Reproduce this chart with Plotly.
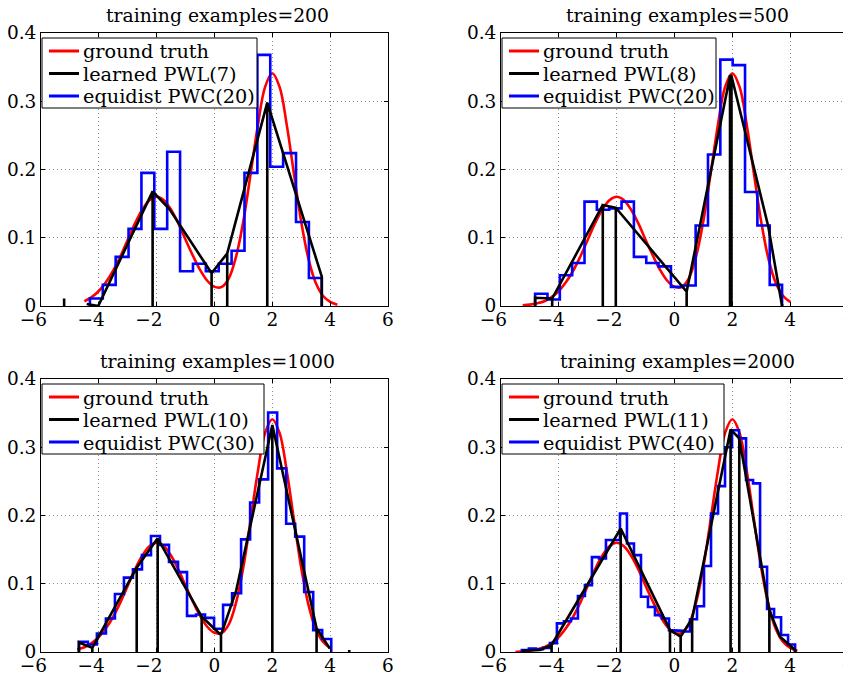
import numpy as np
import plotly.graph_objects as go

# ---------------- data ----------------
titles = ["training examples=200", "training examples=500",
          "training examples=1000", "training examples=2000"]
gt_name = "ground truth"
pwl_names = ["learned PWL(7)", "learned PWL(8)", "learned PWL(10)", "learned PWL(11)"]
pwc_names = ["equidist PWC(20)", "equidist PWC(20)", "equidist PWC(30)", "equidist PWC(40)"]

gt_x = [-5.5, -5.25, -5.0, -4.75, -4.5, -4.25, -4.0, -3.75, -3.5, -3.25, -3.0,
        -2.75, -2.5, -2.25, -2.0, -1.75, -1.5, -1.25, -1.0, -0.75, -0.5, -0.25,
        0.0, 0.25, 0.5, 0.75, 1.0, 1.25, 1.5, 1.75, 2.0, 2.25, 2.5, 2.75, 3.0,
        3.25, 3.5, 3.75, 4.0, 4.25, 4.5]
gt_y = [0.000, 0.001, 0.002, 0.004, 0.007, 0.013, 0.022, 0.035, 0.052, 0.073, 0.097,
        0.121, 0.141, 0.155, 0.160, 0.155, 0.141, 0.121, 0.097, 0.074, 0.053, 0.037,
        0.028, 0.028, 0.041, 0.073, 0.125, 0.194, 0.265, 0.321, 0.341, 0.321, 0.265,
        0.193, 0.123, 0.069, 0.034, 0.015, 0.006, 0.002, 0.001]
gt_range = [(-4.5, 4.25), (-5.25, 4.0), (-4.75, 4.0), (-5.5, 4.25)]

# learned piecewise-linear estimates: knots, values, vertical-to-zero flag
pwl_x_1 = [-4.42, -4.02, -2.14, -1.56, -0.10, 0.44, 1.825, 3.71]
pwl_y_1 = [0.003, 0.000, 0.168, 0.142, 0.048, 0.077, 0.298, 0.043]
pwl_v_1 = [0, 0, 1, 0, 1, 1, 1, 1]
mark_x_1 = [-5.2]
mark_y_1 = [0.011]

pwl_x_2 = [-4.82, -4.23, -2.48, -2.03, 0.42, 1.92, 1.97, 3.24, 3.72]
pwl_y_2 = [0.012, 0.011, 0.148, 0.144, 0.021, 0.337, 0.337, 0.117, 0.003]
pwl_v_2 = [1, 1, 1, 1, 1, 1, 1, 0, 1]
mark_x_2 = []
mark_y_2 = []

pwl_x_3 = [-4.686, -4.226, -2.69, -1.965, -0.443, 0.224, 0.75, 2.0, 3.53, 3.99]
pwl_y_3 = [0.014, 0.006, 0.1235, 0.1665, 0.052, 0.025, 0.09, 0.3326, 0.0347, 0.005]
pwl_v_3 = [1, 1, 1, 1, 1, 1, 0, 1, 1, 0]
mark_x_3 = [4.66]
mark_y_3 = [0.003]

pwl_x_4 = [-5.23, -4.65, -4.25, -1.86, -0.156, 0.213, 0.61, 1.94, 2.24, 3.28, 3.65, 4.17]
pwl_y_4 = [0.002, 0.003, 0.0103, 0.181, 0.032, 0.0225, 0.049, 0.326, 0.313, 0.0615, 0.0225, 0.003]
pwl_v_4 = [1, 0, 1, 1, 1, 1, 1, 1, 1, 1, 0, 1]
mark_x_4 = []
mark_y_4 = []

# equidistant piecewise-constant estimates: range and bin heights
pwc_lo = [-5.2, -4.82, -4.69, -5.52]
pwc_hi = [3.71, 3.72, 4.66, 4.17]
pwc_h_1 = [0, 0, 0.011, 0.031, 0.072, 0.113, 0.195, 0.113, 0.226, 0.051,
           0.062, 0.051, 0.062, 0.081, 0.195, 0.368, 0.204, 0.224, 0.123, 0.041]
pwc_h_2 = [0.018, 0.0095, 0.045, 0.063, 0.153, 0.141, 0.143, 0.153, 0.072, 0.063,
           0.058, 0.028, 0.030, 0.118, 0.222, 0.361, 0.353, 0.167, 0.118, 0.031]
pwc_h_3 = [0.015, 0.011, 0.027, 0.049, 0.085, 0.109, 0.121, 0.142, 0.170, 0.157,
           0.132, 0.117, 0.053, 0.055, 0.050, 0.034, 0.069, 0.086, 0.165, 0.219,
           0.253, 0.351, 0.269, 0.188, 0.169, 0.088, 0.032, 0.019, 0, 0]
pwc_h_4 = [0, 0.003, 0.005, 0.004, 0.006, 0.013, 0.042, 0.045, 0.049, 0.082,
           0.098, 0.139, 0.137, 0.164, 0.164, 0.203, 0.159, 0.142, 0.081, 0.066,
           0.054, 0.049, 0.032, 0.031, 0.030, 0.048, 0.067, 0.126, 0.203, 0.243,
           0.300, 0.325, 0.313, 0.252, 0.247, 0.125, 0.063, 0.051, 0.025, 0.011]

x_ticks = [-6, -4, -2, 0, 2, 4, 6]
# minus signs hang to the left of the centred digit, as in the reference
x_ticktext = ["\u22126\u2007\u2009", "\u22124\u2007\u2009", "\u22122\u2007\u2009",
              "0", "2", "4", "6"]
y_ticks = [0, 0.1, 0.2, 0.3, 0.4]
y_ticktext = ["0", "0.1", "0.2", "0.3", "0.4"]

pwl_x = [pwl_x_1, pwl_x_2, pwl_x_3, pwl_x_4]
pwl_y = [pwl_y_1, pwl_y_2, pwl_y_3, pwl_y_4]
pwl_v = [pwl_v_1, pwl_v_2, pwl_v_3, pwl_v_4]
mark_x = [mark_x_1, mark_x_2, mark_x_3, mark_x_4]
mark_y = [mark_y_1, mark_y_2, mark_y_3, mark_y_4]
pwc_h = [pwc_h_1, pwc_h_2, pwc_h_3, pwc_h_4]

# ---------------- layout geometry (window pixels) ----------------
WIN_W, WIN_H = 851, 680
OFF = 8                      # page body margin of the html page
W, H = WIN_W - OFF, WIN_H - OFF
FONT = "DejaVu Serif"
px_x = [(41, 388), (501, 848), (41, 388), (501, 848)]
px_y = [(33, 306), (33, 306), (379, 652), (379, 652)]
legend_box = [(42, 38, 257, 108), (502, 38, 716, 108),
              (42, 384, 264, 454), (502, 384, 724, 454)]
title_y = [16, 16, 361, 361]
COL = {"gt": "#ff0000", "pwl": "#000000", "pwc": "#0000ff"}


def PX(p):
    return (p - OFF) / W


def PY(p):
    return 1 - (p - OFF) / H


fig = go.Figure()
layout = {}
shapes = []
annotations = []

for i in range(4):
    n = i + 1
    xa = "x" if n == 1 else f"x{n}"
    ya = "y" if n == 1 else f"y{n}"

    # ground truth
    lo, hi = gt_range[i]
    gx = [x for x in gt_x if lo - 1e-9 <= x <= hi + 1e-9]
    gy = [y for x, y in zip(gt_x, gt_y) if lo - 1e-9 <= x <= hi + 1e-9]
    fig.add_trace(go.Scatter(x=gx, y=gy, mode="lines", name=gt_name, showlegend=False,
                             line=dict(color=COL["gt"], width=2.6, shape="spline", smoothing=1.0),
                             xaxis=xa, yaxis=ya))

    # equidistant PWC as a step outline
    h = pwc_h[i]
    edges = np.linspace(pwc_lo[i], pwc_hi[i], len(h) + 1)
    nz = [k for k, v in enumerate(h) if v > 0]
    a, b = nz[0], nz[-1]
    bx, by = [edges[a]], [0.0]
    for k in range(a, b + 1):
        bx += [edges[k], edges[k + 1]]
        by += [h[k], h[k]]
    bx.append(edges[b + 1])
    by.append(0.0)
    fig.add_trace(go.Scatter(x=bx, y=by, mode="lines", name=pwc_names[i], showlegend=False,
                             line=dict(color=COL["pwc"], width=2.6),
                             xaxis=xa, yaxis=ya))

    # learned PWL with vertical lines down to zero at knots
    kx, ky = [], []
    for x, y, v in zip(pwl_x[i], pwl_y[i], pwl_v[i]):
        kx.append(x); ky.append(y)
        if v:
            kx += [x, x]; ky += [0.0, y]
    for x, y in zip(mark_x[i], mark_y[i]):
        kx += [None, x, x]; ky += [None, 0.0, y]
    fig.add_trace(go.Scatter(x=kx, y=ky, mode="lines", name=pwl_names[i], showlegend=False,
                             line=dict(color=COL["pwl"], width=2.6),
                             connectgaps=False, xaxis=xa, yaxis=ya))

    x0, x1 = px_x[i]
    y0, y1 = px_y[i]
    common = dict(showline=True, linecolor="black", linewidth=1, mirror="ticks",
                  ticks="inside", ticklen=4, tickcolor="black",
                  showgrid=True, gridcolor="#8c8c8c", griddash="1px,3px", gridwidth=1,
                  zeroline=False, tickfont=dict(family=FONT, size=18.5, color="black"))
    layout["xaxis" if n == 1 else f"xaxis{n}"] = dict(
        domain=[PX(x0), PX(x1)], range=[-6, 6], anchor=ya,
        tickvals=x_ticks, ticktext=x_ticktext, ticklabeloverflow="allow",
        ticklabelstandoff=-3, **common)
    layout["yaxis" if n == 1 else f"yaxis{n}"] = dict(
        domain=[PY(y1), PY(y0)], range=[0, 0.4], anchor=xa,
        tickvals=y_ticks, ticktext=y_ticktext, **common)

    # legend box drawn by hand (compact rows like the reference)
    bl, bt, br, bb = legend_box[i]
    shapes.append(dict(type="rect", xref="paper", yref="paper",
                       x0=PX(bl), x1=PX(br), y0=PY(bb), y1=PY(bt),
                       line=dict(color="black", width=1), fillcolor="white", layer="above"))
    rows = [(gt_name, COL["gt"]), (pwl_names[i], COL["pwl"]), (pwc_names[i], COL["pwc"])]
    for r, (label, col) in enumerate(rows):
        yc = bt + 13 + r * 22.5
        shapes.append(dict(type="line", xref="paper", yref="paper",
                           x0=PX(bl + 7), x1=PX(bl + 37), y0=PY(yc), y1=PY(yc),
                           line=dict(color=col, width=3), layer="above"))
        annotations.append(dict(text=label, xref="paper", yref="paper",
                                x=PX(bl + 40), y=PY(yc + 1), xanchor="left", yanchor="middle",
                                showarrow=False, borderpad=0,
                                font=dict(family=FONT, size=19.3, color="black")))

    annotations.append(dict(text=titles[i], xref="paper", yref="paper",
                            x=PX((x0 + x1) / 2 + 3), y=PY(title_y[i]),
                            xanchor="center", yanchor="middle", showarrow=False,
                            borderpad=0,
                            font=dict(family=FONT, size=18.8, color="black")))

fig.update_layout(width=W, height=H,
                  margin=dict(l=0, r=0, t=0, b=0, pad=0, autoexpand=False),
                  paper_bgcolor="white", plot_bgcolor="white",
                  showlegend=False, annotations=annotations, shapes=shapes,
                  font=dict(family=FONT, color="black"), **layout)

fig.write_html("out.html")
